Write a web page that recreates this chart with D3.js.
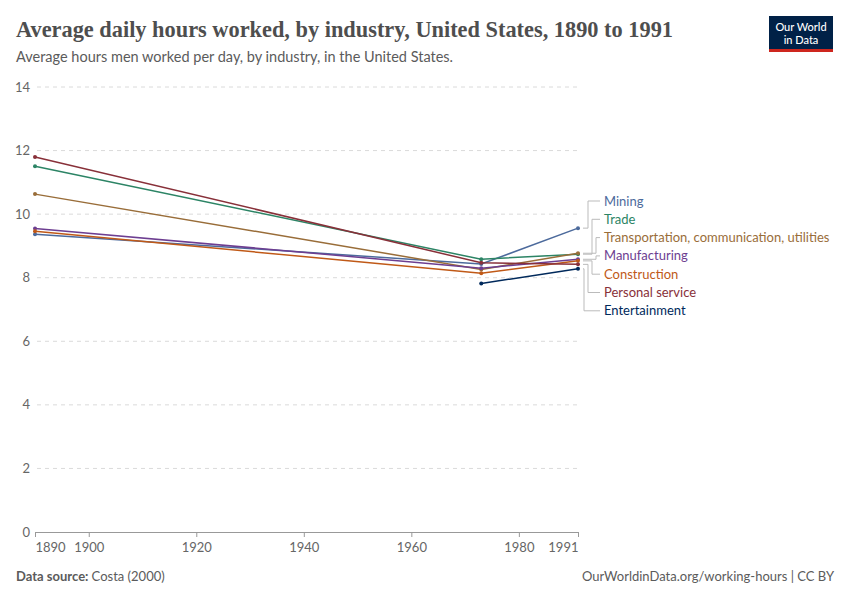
<!DOCTYPE html>
<html>
<head>
<meta charset="utf-8">
<script src="https://cdn.jsdelivr.net/npm/d3@7"></script>
<style>
  body { margin: 0; background: #fff; }
  svg { font-family: Lato, "Noto Sans", sans-serif; }
</style>
</head>
<body>
<svg id="chart" width="850" height="600"></svg>
<script>
// data
const years = [1890, 1973, 1991];
const industries = ["Mining", "Trade", "Transportation, communication, utilities",
    "Manufacturing", "Construction", "Personal service", "Entertainment"];
const mining = [9.37, 8.43, 9.56];
const trade = [11.51, 8.58, 8.74];
const transport = [10.63, 8.26, 8.77];
const manufacturing = [9.55, 8.30, 8.58];
const construction = [9.46, 8.14, 8.53];
const personalService = [11.80, 8.47, 8.42];
const entertainment = [null, 7.82, 8.28];
const xTicks = [1890, 1900, 1920, 1940, 1960, 1980, 1991];
const yTicks = [0, 2, 4, 6, 8, 10, 12, 14];
const colors = ["#4c6a9c", "#2c8465", "#996d39", "#6d3e91", "#c05917", "#883039", "#00295b"];

const seriesValues = [mining, trade, transport, manufacturing, construction, personalService, entertainment];
const series = industries.map((name, i) => ({
    name: name,
    color: colors[i],
    points: years.map((y, j) => ({ year: y, value: seriesValues[i][j] }))
        .filter(p => p.value != null)
}));

const svg = d3.select("#chart");
const margin = { top: 87, right: 272, bottom: 68, left: 35 },
    width = 850 - margin.left - margin.right,
    height = 600 - margin.top - margin.bottom;

// header
svg.append("text")
    .attr("x", 16).attr("y", 37)
    .attr("font-family", "'Liberation Serif', 'DejaVu Serif', serif")
    .attr("font-size", 23)
    .attr("font-weight", 700)
    .attr("fill", "#4e4e4e")
    .attr("textLength", 657)
    .attr("lengthAdjust", "spacingAndGlyphs")
    .text("Average daily hours worked, by industry, United States, 1890 to 1991");

svg.append("text")
    .attr("x", 16).attr("y", 62)
    .attr("font-size", 14.5)
    .attr("fill", "#5b5b5b")
    .text("Average hours men worked per day, by industry, in the United States.");

// logo
const logo = svg.append("g").attr("transform", "translate(769,16)");
logo.append("rect").attr("width", 64).attr("height", 36).attr("fill", "#002147");
logo.append("rect").attr("y", 33).attr("width", 64).attr("height", 3).attr("fill", "#ce261e");
logo.append("text").attr("x", 32).attr("y", 15).attr("text-anchor", "middle")
    .attr("fill", "#fff").attr("font-size", 11).attr("font-weight", 500).text("Our World");
logo.append("text").attr("x", 32).attr("y", 28).attr("text-anchor", "middle")
    .attr("fill", "#fff").attr("font-size", 11).attr("font-weight", 500).text("in Data");

const g = svg.append("g")
    .attr("transform", `translate(${margin.left}, ${margin.top})`);

const x = d3.scaleLinear().domain([1890, 1991]).range([0, width]);
const y = d3.scaleLinear().domain([0, 14]).range([height, 0]);

// gridlines
g.selectAll(".grid")
    .data(yTicks.filter(t => t > 0))
    .join("line")
    .attr("x1", 2).attr("x2", width)
    .attr("y1", d => y(d)).attr("y2", d => y(d))
    .attr("stroke", "#dadada")
    .attr("stroke-dasharray", "4,4");

g.selectAll(".ylab")
    .data(yTicks)
    .join("text")
    .attr("x", -5).attr("y", d => y(d))
    .attr("dy", "0.35em")
    .attr("text-anchor", "end")
    .attr("font-size", 13)
    .attr("fill", "#666")
    .text(d => d);

// x axis
const xAxis = g.append("g")
    .attr("transform", `translate(0, ${height})`)
    .call(d3.axisBottom(x).tickValues(xTicks).tickFormat(d3.format("d")).tickSize(5).tickSizeOuter(0));
xAxis.select(".domain").attr("stroke", "#999");
xAxis.selectAll(".tick line").attr("stroke", "#999");
xAxis.selectAll(".tick text")
    .attr("font-family", "Lato, sans-serif")
    .attr("font-size", 13)
    .attr("fill", "#666")
    .attr("dy", "0.95em")
    .attr("text-anchor", d => d === 1890 ? "start" : d === 1991 ? "end" : "middle");

// lines
const line = d3.line()
    .x(d => x(d.year))
    .y(d => y(d.value));

g.selectAll(".series")
    .data(series)
    .join("path")
    .attr("d", d => line(d.points))
    .attr("fill", "none")
    .attr("stroke", d => d.color)
    .attr("stroke-width", 1.5);

series.forEach(s => {
    g.selectAll(null)
        .data(s.points)
        .join("circle")
        .attr("cx", d => x(d.year))
        .attr("cy", d => y(d.value))
        .attr("r", 2)
        .attr("fill", s.color);
});

// end labels with connectors
const labelTop = 201 - margin.top, labelStep = 18.3;
const kinks = [7, 11, 15, 15, 11, 7, 3];
series.forEach((s, i) => {
    const last = s.points[s.points.length - 1];
    const ly = labelTop + i * labelStep;
    const ey = y(last.value);
    const kx = width + 3 + kinks[i];
    g.append("polyline")
        .attr("points", `${width + 5},${ey} ${kx},${ey} ${kx},${ly} ${width + 22},${ly}`)
        .attr("fill", "none")
        .attr("stroke", "#bbb")
        .attr("stroke-width", 1);
    g.append("text")
        .attr("x", width + 26).attr("y", ly)
        .attr("dy", "0.35em")
        .attr("font-size", 13)
        .attr("fill", s.color)
        .text(s.name);
});

// footer
const foot = svg.append("text")
    .attr("x", 16).attr("y", 581)
    .attr("font-size", 13)
    .attr("fill", "#5b5b5b");
foot.append("tspan").attr("font-weight", 700).text("Data source: ");
foot.append("tspan").text("Costa (2000)");

svg.append("text")
    .attr("x", 834).attr("y", 581)
    .attr("text-anchor", "end")
    .attr("font-size", 13)
    .attr("fill", "#5b5b5b")
    .text("OurWorldinData.org/working-hours | CC BY");
</script>
</body>
</html>
